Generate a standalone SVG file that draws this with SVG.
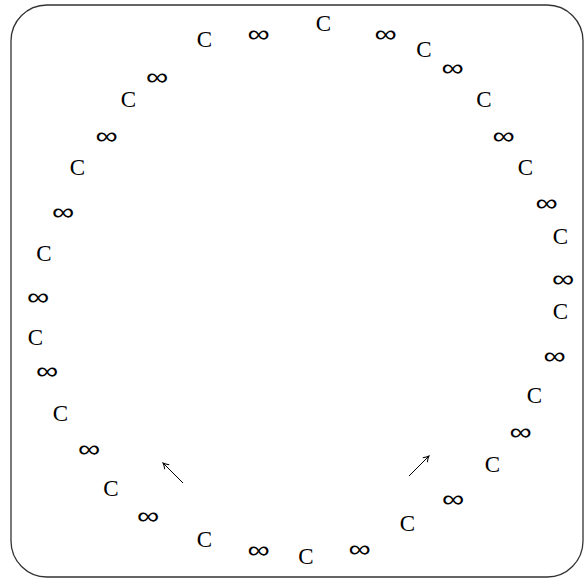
<svg xmlns="http://www.w3.org/2000/svg" width="584" height="579" viewBox="0 0 584 579">
<style>
.c{font-family:"Liberation Serif","Times New Roman",serif;font-size:23px;text-anchor:middle;fill:#000}
.i{font-family:"DejaVu Sans",sans-serif;font-weight:200;font-size:24px;text-anchor:middle;fill:#000}
.a{fill:none;stroke:#000;stroke-width:1}
</style>
<defs>
<marker id="h" viewBox="0 0 10 10" refX="9" refY="5" markerWidth="8" markerHeight="8" orient="auto" markerUnits="userSpaceOnUse">
<path d="M2,1 Q6,4 9,5 Q6,6 2,9" fill="none" stroke="#000" stroke-width="1.2"/>
</marker>
</defs>
<rect x="11" y="5" width="572" height="572" rx="36" ry="36" fill="#fff" stroke="#333" stroke-width="1.3"/>
<g id="connectors">
<line class="a" x1="183" y1="483" x2="163" y2="463" marker-end="url(#h)"/>
<line class="a" x1="409" y1="476" x2="429" y2="456" marker-end="url(#h)"/>
</g>
<g id="C-nodes">
<g id="c1"><text class="c" x="204.5" y="47">C</text></g>
<g id="c2"><text class="c" x="323.5" y="31">C</text></g>
<g id="c3"><text class="c" x="424" y="57">C</text></g>
<g id="c4"><text class="c" x="484" y="107">C</text></g>
<g id="c5"><text class="c" x="525.5" y="175">C</text></g>
<g id="c6"><text class="c" x="560.5" y="244">C</text></g>
<g id="c7"><text class="c" x="560.5" y="319">C</text></g>
<g id="c8"><text class="c" x="534.5" y="403">C</text></g>
<g id="c9"><text class="c" x="492.5" y="472">C</text></g>
<g id="c10"><text class="c" x="407.5" y="531">C</text></g>
<g id="c11"><text class="c" x="306" y="564">C</text></g>
<g id="c12"><text class="c" x="204.5" y="547">C</text></g>
<g id="c13"><text class="c" x="111" y="496">C</text></g>
<g id="c14"><text class="c" x="60.5" y="421">C</text></g>
<g id="c15"><text class="c" x="35.5" y="345">C</text></g>
<g id="c16"><text class="c" x="44" y="261">C</text></g>
<g id="c17"><text class="c" x="77.5" y="175">C</text></g>
<g id="c18"><text class="c" x="128.5" y="107">C</text></g>
</g>
<g id="inf-nodes">
<g id="i1"><text class="i" transform="translate(258.5,42) scale(1.3,1)">∞</text></g>
<g id="i2"><text class="i" transform="translate(385.5,42) scale(1.3,1)">∞</text></g>
<g id="i3"><text class="i" transform="translate(452.5,75.5) scale(1.3,1)">∞</text></g>
<g id="i4"><text class="i" transform="translate(503.5,144) scale(1.3,1)">∞</text></g>
<g id="i5"><text class="i" transform="translate(546.5,210.5) scale(1.3,1)">∞</text></g>
<g id="i6"><text class="i" transform="translate(563,286.5) scale(1.3,1)">∞</text></g>
<g id="i7"><text class="i" transform="translate(554.5,364) scale(1.3,1)">∞</text></g>
<g id="i8"><text class="i" transform="translate(520.5,439.5) scale(1.3,1)">∞</text></g>
<g id="i9"><text class="i" transform="translate(453,507) scale(1.3,1)">∞</text></g>
<g id="i10"><text class="i" transform="translate(359.5,556.5) scale(1.3,1)">∞</text></g>
<g id="i11"><text class="i" transform="translate(258.5,558) scale(1.3,1)">∞</text></g>
<g id="i12"><text class="i" transform="translate(148,524) scale(1.3,1)">∞</text></g>
<g id="i13"><text class="i" transform="translate(89,457) scale(1.3,1)">∞</text></g>
<g id="i14"><text class="i" transform="translate(47,379) scale(1.3,1)">∞</text></g>
<g id="i15"><text class="i" transform="translate(38,304.5) scale(1.3,1)">∞</text></g>
<g id="i16"><text class="i" transform="translate(63,220) scale(1.3,1)">∞</text></g>
<g id="i17"><text class="i" transform="translate(106.5,144) scale(1.3,1)">∞</text></g>
<g id="i18"><text class="i" transform="translate(157,84.5) scale(1.3,1)">∞</text></g>
</g>
</svg>
